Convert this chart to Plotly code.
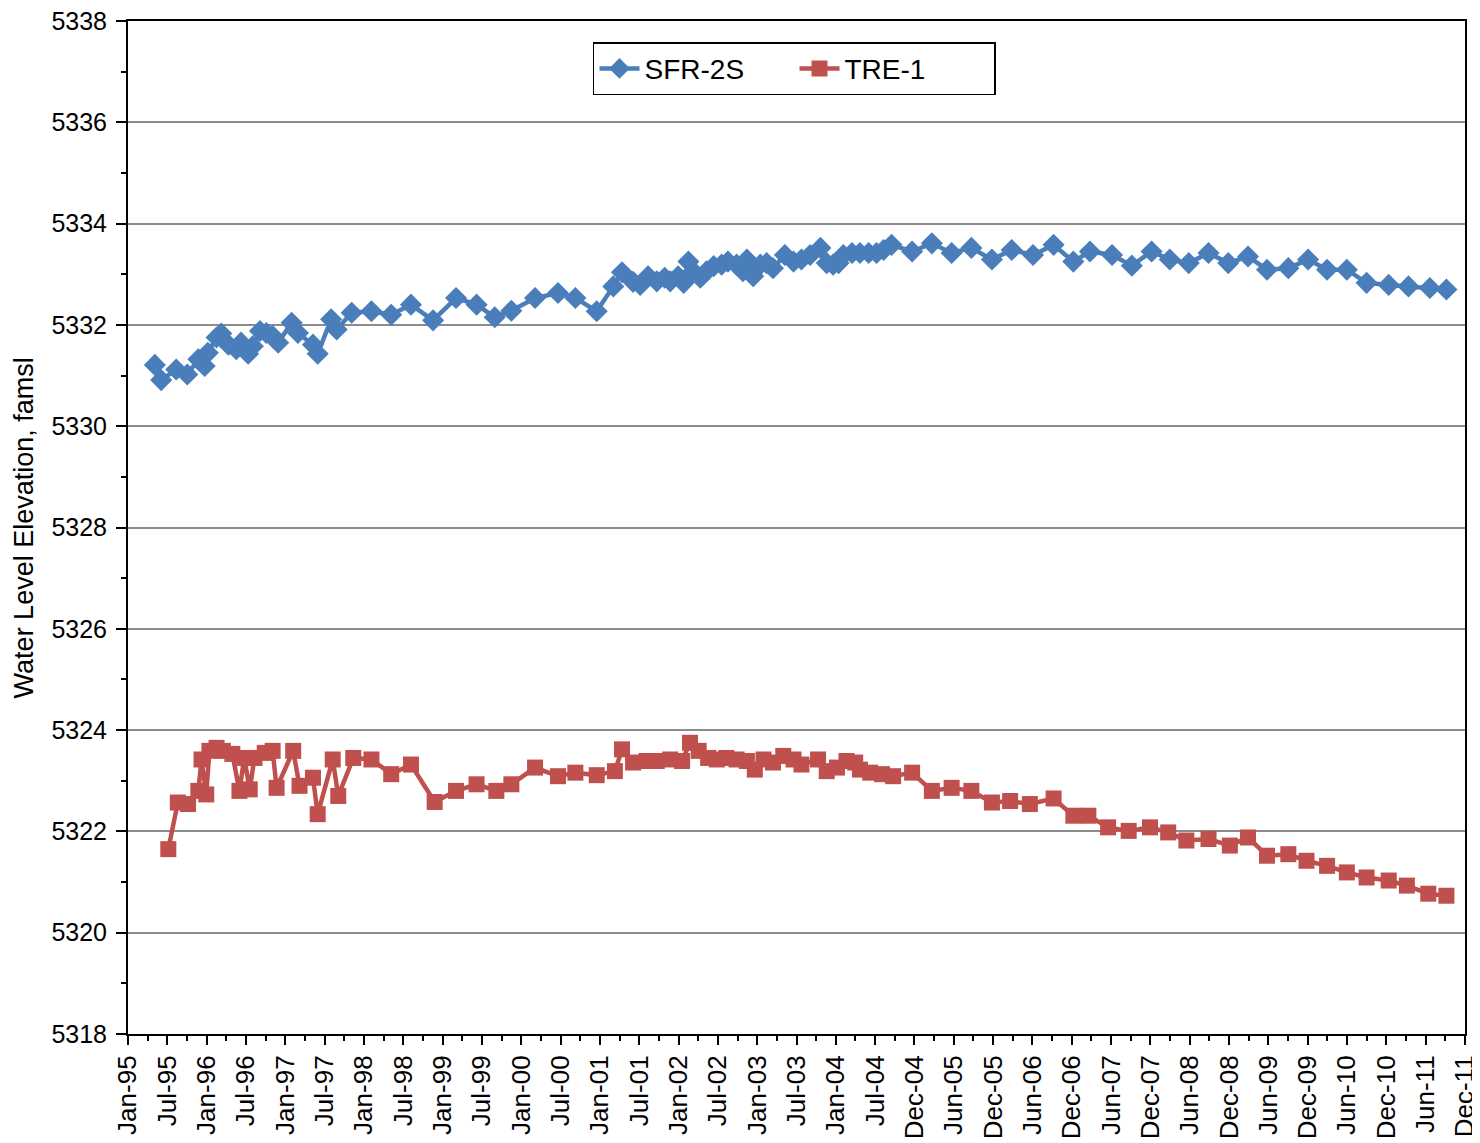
import plotly.graph_objects as go

# ---- data (decimal years, feet above mean sea level) ----
sfr_year = [1995.34, 1995.42, 1995.61, 1995.75, 1995.89, 1995.97, 1996.01, 1996.12, 1996.18, 1996.27,
            1996.37, 1996.43, 1996.52, 1996.58, 1996.67, 1996.75, 1996.83, 1996.90, 1997.07, 1997.15,
            1997.34, 1997.40, 1997.57, 1997.64, 1997.83, 1998.08, 1998.33, 1998.58, 1998.86, 1999.15,
            1999.41, 1999.64, 1999.85, 2000.15, 2000.44, 2000.66, 2000.93, 2001.14, 2001.25, 2001.39,
            2001.48, 2001.58, 2001.69, 2001.79, 2001.86, 2001.96, 2002.03, 2002.09, 2002.15, 2002.24,
            2002.32, 2002.41, 2002.51, 2002.59, 2002.70, 2002.78, 2002.83, 2002.91, 2003.00, 2003.08,
            2003.16, 2003.31, 2003.42, 2003.52, 2003.63, 2003.76, 2003.84, 2003.92, 2003.99, 2004.05,
            2004.16, 2004.26, 2004.37, 2004.47, 2004.56, 2004.66, 2004.92, 2005.17, 2005.42, 2005.67,
            2005.93, 2006.18, 2006.45, 2006.71, 2006.96, 2007.17, 2007.45, 2007.70, 2007.95, 2008.18,
            2008.42, 2008.67, 2008.92, 2009.17, 2009.41, 2009.68, 2009.93, 2010.17, 2010.42, 2010.67,
            2010.95, 2011.20, 2011.47, 2011.68]
sfr_elev = [5331.21, 5330.91, 5331.12, 5331.02, 5331.32, 5331.19, 5331.45, 5331.75, 5331.83, 5331.61,
            5331.52, 5331.65, 5331.43, 5331.58, 5331.88, 5331.84, 5331.78, 5331.65, 5332.04, 5331.84,
            5331.61, 5331.43, 5332.11, 5331.91, 5332.24, 5332.27, 5332.20, 5332.40, 5332.09, 5332.53,
            5332.40, 5332.15, 5332.28, 5332.53, 5332.63, 5332.53, 5332.27, 5332.76, 5333.04, 5332.85,
            5332.79, 5332.96, 5332.86, 5332.93, 5332.86, 5332.96, 5332.83, 5333.25, 5333.06, 5332.93,
            5333.06, 5333.16, 5333.19, 5333.25, 5333.19, 5333.06, 5333.29, 5332.96, 5333.19, 5333.22,
            5333.12, 5333.38, 5333.25, 5333.29, 5333.38, 5333.52, 5333.22, 5333.19, 5333.22, 5333.38,
            5333.42, 5333.42, 5333.42, 5333.42, 5333.48, 5333.58, 5333.45, 5333.61, 5333.42, 5333.52,
            5333.29, 5333.48, 5333.38, 5333.58, 5333.25, 5333.45, 5333.38, 5333.17, 5333.45, 5333.29,
            5333.22, 5333.42, 5333.22, 5333.35, 5333.09, 5333.12, 5333.29, 5333.09, 5333.09, 5332.83,
            5332.79, 5332.76, 5332.73, 5332.70]

tre_year = [1995.51, 1995.63, 1995.76, 1995.89, 1995.93, 1995.99, 1996.03, 1996.12, 1996.20, 1996.32,
            1996.41, 1996.47, 1996.54, 1996.60, 1996.73, 1996.83, 1996.88, 1997.09, 1997.17, 1997.34,
            1997.40, 1997.59, 1997.66, 1997.85, 1998.08, 1998.33, 1998.58, 1998.88, 1999.15, 1999.41,
            1999.66, 1999.85, 2000.15, 2000.44, 2000.66, 2000.93, 2001.16, 2001.25, 2001.39, 2001.56,
            2001.69, 2001.86, 2002.01, 2002.11, 2002.22, 2002.34, 2002.45, 2002.57, 2002.70, 2002.83,
            2002.93, 2003.04, 2003.16, 2003.29, 2003.42, 2003.52, 2003.73, 2003.84, 2003.97, 2004.09,
            2004.20, 2004.26, 2004.39, 2004.54, 2004.68, 2004.92, 2005.17, 2005.42, 2005.67, 2005.93,
            2006.16, 2006.41, 2006.71, 2006.96, 2007.15, 2007.40, 2007.66, 2007.93, 2008.16, 2008.39,
            2008.67, 2008.94, 2009.17, 2009.41, 2009.68, 2009.91, 2010.17, 2010.42, 2010.67, 2010.95,
            2011.18, 2011.45, 2011.68]
tre_elev = [5321.65, 5322.57, 5322.54, 5322.80, 5323.42, 5322.73, 5323.59, 5323.65, 5323.59, 5323.53,
            5322.80, 5323.45, 5322.83, 5323.45, 5323.55, 5323.59, 5322.86, 5323.59, 5322.90, 5323.06,
            5322.34, 5323.42, 5322.70, 5323.45, 5323.42, 5323.13, 5323.32, 5322.58, 5322.80, 5322.93,
            5322.80, 5322.93, 5323.26, 5323.09, 5323.16, 5323.11, 5323.19, 5323.62, 5323.36, 5323.39,
            5323.39, 5323.42, 5323.39, 5323.75, 5323.59, 5323.45, 5323.42, 5323.45, 5323.42, 5323.39,
            5323.22, 5323.42, 5323.36, 5323.49, 5323.42, 5323.32, 5323.42, 5323.19, 5323.26, 5323.39,
            5323.36, 5323.22, 5323.16, 5323.13, 5323.09, 5323.16, 5322.80, 5322.86, 5322.80, 5322.57,
            5322.60, 5322.54, 5322.65, 5322.31, 5322.31, 5322.08, 5322.01, 5322.08, 5321.98, 5321.82,
            5321.85, 5321.72, 5321.88, 5321.52, 5321.55, 5321.42, 5321.32, 5321.19, 5321.09, 5321.03,
            5320.93, 5320.77, 5320.73]

tick_labels = ["Jan-95", "Jul-95", "Jan-96", "Jul-96", "Jan-97", "Jul-97", "Jan-98", "Jul-98",
               "Jan-99", "Jul-99", "Jan-00", "Jul-00", "Jan-01", "Jul-01", "Jan-02", "Jul-02",
               "Jan-03", "Jul-03", "Jan-04", "Jul-04", "Dec-04", "Jun-05", "Dec-05", "Jun-06",
               "Dec-06", "Jun-07", "Dec-07", "Jun-08", "Dec-08", "Jun-09", "Dec-09", "Jun-10",
               "Dec-10", "Jun-11", "Dec-11"]

x_start = 1995.0
x_end = 2011.915
step = (x_end - x_start) / (len(tick_labels) - 1)
tick_vals = [x_start + i * step for i in range(len(tick_labels))]

FONT = "Liberation Sans, Arial, sans-serif"
BLUE = "#4A7EBB"
RED = "#C0504D"

fig = go.Figure()
fig.add_trace(go.Scatter(
    x=sfr_year, y=sfr_elev, name="SFR-2S", mode="lines+markers",
    line=dict(color=BLUE, width=4.5),
    marker=dict(symbol="diamond", size=17, color=BLUE, line=dict(width=0)),
))
fig.add_trace(go.Scatter(
    x=tre_year, y=tre_elev, name="TRE-1", mode="lines+markers",
    line=dict(color=RED, width=4.5),
    marker=dict(symbol="square", size=16, color=RED, line=dict(width=0)),
))

fig.update_layout(
    template="none",
    width=1480, height=1143,
    margin=dict(l=120, r=23, t=13, b=117, autoexpand=False),
    paper_bgcolor="white", plot_bgcolor="white",
    font=dict(family=FONT, color="black"),
    showlegend=True,
    legend=dict(
        orientation="h", x=0.4985, y=0.979, xanchor="center", yanchor="top",
        bordercolor="black", borderwidth=1.5, bgcolor="white",
        font=dict(size=28, family=FONT, color="black"),
        entrywidth=145, entrywidthmode="pixels",
        itemwidth=40, tracegroupgap=0,
    ),
    annotations=[dict(
        text="Water Level Elevation, famsl", textangle=-90,
        xref="paper", yref="paper", x=-0.0775, y=0.4995,
        xanchor="center", yanchor="middle", showarrow=False,
        font=dict(size=27, family=FONT, color="black"),
    )],
)

fig.update_xaxes(
    range=[x_start, x_end], automargin=False, ticklabeloverflow="allow",
    tickmode="array", tickvals=tick_vals, ticktext=tick_labels,
    tickangle=-90, tickfont=dict(size=26, family=FONT, color="black"),
    ticks="outside", ticklen=9, tickwidth=1.5, tickcolor="black",
    minor=dict(tickmode="linear", tick0=x_start, dtick=step / 2, ticks="outside",
               ticklen=5, tickwidth=1.5, tickcolor="black", showgrid=False),
    showline=True, linecolor="black", linewidth=2, mirror=True,
    showgrid=False, zeroline=False,
)
fig.update_yaxes(
    range=[5318, 5338], tickmode="linear", tick0=5318, dtick=2, automargin=False,
    ticklabeloverflow="allow", ticklabelstandoff=4,
    tickfont=dict(size=25, family=FONT, color="black"),
    ticks="outside", ticklen=10, tickwidth=1.5, tickcolor="black",
    minor=dict(tickmode="linear", tick0=5318, dtick=1, ticks="outside",
               ticklen=5, tickwidth=1.5, tickcolor="black", showgrid=False),
    showline=True, linecolor="black", linewidth=2, mirror=True,
    showgrid=True, gridcolor="#8C8C8C", gridwidth=1.5, zeroline=False,
)

fig.write_html("out.html")
